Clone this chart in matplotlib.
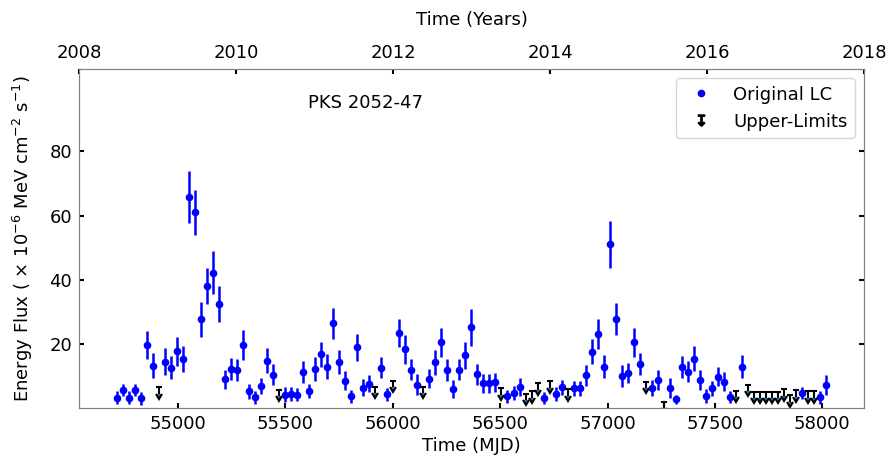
import numpy as np
import matplotlib.pyplot as plt
from matplotlib.lines import Line2D

# %% data (monthly light curve)
mjd_det = [54714, 54742, 54770, 54798, 54826, 54854, 54882, 54938, 54966, 54994,
           55022, 55050, 55078, 55106, 55134, 55162, 55190, 55218, 55246, 55274,
           55302, 55330, 55358, 55386, 55414, 55442, 55498, 55526, 55554, 55582,
           55610, 55638, 55666, 55694, 55722, 55750, 55778, 55806, 55834, 55862,
           55890, 55946, 55974, 56030, 56058, 56086, 56114, 56170, 56198, 56226,
           56254, 56282, 56310, 56338, 56366, 56394, 56422, 56450, 56478, 56534,
           56562, 56590, 56702, 56758, 56786, 56842, 56870, 56898, 56926, 56954,
           56982, 57010, 57038, 57066, 57094, 57122, 57150, 57206, 57234, 57290,
           57318, 57346, 57374, 57402, 57430, 57458, 57486, 57514, 57542, 57570,
           57626, 57906, 57990, 58018]
flux_det = [3.2, 5.6, 3.2, 5.6, 3.0, 19.7, 13.2, 14.4, 12.5, 17.7,
            15.2, 65.8, 61.0, 27.6, 38.0, 42.2, 32.5, 8.9, 12.2, 11.9,
            19.7, 5.2, 3.3, 6.9, 14.8, 10.4, 4.2, 4.4, 4.2, 11.2,
            5.4, 12.1, 16.7, 12.9, 26.4, 14.4, 8.5, 3.6, 18.9, 6.3,
            7.6, 12.6, 4.3, 23.5, 18.3, 12.0, 7.3, 9.1, 14.2, 20.5,
            11.9, 5.8, 12.0, 16.4, 25.1, 10.5, 7.7, 7.7, 8.0, 3.6,
            4.6, 6.6, 3.1, 4.4, 6.4, 6.1, 6.1, 10.2, 17.6, 23.0,
            12.9, 51.0, 27.8, 10.0, 10.9, 20.5, 13.8, 6.2, 8.7, 6.2,
            2.7, 12.7, 11.3, 15.4, 8.8, 3.7, 6.1, 9.8, 8.2, 3.4,
            12.9, 4.7, 3.3, 7.2]
err_det = [2.0, 2.0, 2.0, 2.0, 2.0, 4.4, 4.0, 4.2, 3.6, 4.5,
           4.0, 8.1, 7.1, 5.5, 5.6, 6.6, 5.6, 3.0, 3.4, 3.4,
           4.6, 2.4, 2.0, 2.6, 4.0, 3.2, 2.2, 2.2, 2.0, 3.5,
           2.2, 3.8, 3.8, 3.8, 4.9, 3.8, 3.0, 2.0, 4.3, 2.6,
           2.6, 3.4, 2.0, 4.4, 4.5, 3.4, 3.2, 3.0, 3.8, 4.5,
           3.4, 2.8, 3.4, 4.3, 5.7, 3.3, 3.0, 3.0, 3.0, 2.0,
           2.2, 2.8, 1.8, 2.2, 2.4, 2.4, 2.4, 3.3, 4.0, 4.7,
           3.6, 7.3, 4.9, 3.5, 3.0, 4.5, 3.5, 2.4, 3.2, 3.0,
           1.5, 3.5, 3.3, 4.0, 3.2, 2.2, 2.4, 3.0, 3.0, 1.8,
           3.6, 2.0, 2.0, 3.0]

mjd_ul = [54910, 55470, 55918, 56002, 56142, 56506, 56618, 56646, 56674, 56730,
          56814, 57178, 57262, 57598, 57654, 57682, 57710, 57738, 57766, 57794,
          57822, 57850, 57878, 57934, 57962]
flux_ul = [6.4, 5.6, 6.7, 8.5, 6.7, 6.2, 4.4, 5.2, 7.7, 8.3,
           5.8, 8.1, 1.9, 5.4, 7.3, 5.0, 5.0, 5.0, 5.0, 5.0,
           5.8, 3.9, 5.5, 5.2, 5.2]
err_ul = 2.0

years = [2008, 2010, 2012, 2014, 2016, 2018]

# %% plot
plt.rcParams['font.family'] = 'DejaVu Sans'
plt.rcParams['font.size'] = 13

fig = plt.figure(figsize=(8.89, 4.62), dpi=100)
ax = fig.add_axes([0.0889, 0.1169, 0.883, 0.7331])

ax.errorbar(mjd_det, flux_det, yerr=err_det, fmt='none', ecolor='blue', elinewidth=1.8)
ax.plot(mjd_det, flux_det, 'o', color='blue', ms=4.5, label='Original LC')
ax.errorbar(mjd_ul, flux_ul, yerr=err_ul, uplims=True, fmt='none', ecolor='black',
            elinewidth=1.5, capsize=2.5, capthick=1.5)

ax.set_xlim(54539, 58194)
ax.set_ylim(0, 105.6)
ax.set_yticks([20, 40, 60, 80])
ax.set_xlabel('Time (MJD)', labelpad=3)
ax.set_ylabel('Energy Flux ( $\\times$ 10$^{-6}$ MeV cm$^{-2}$ s$^{-1}$)', labelpad=10)
ax.tick_params(direction='in', right=True, width=1.5, labelsize=13, pad=5)
ax.text(0.292, 0.90, 'PKS 2052-47', transform=ax.transAxes, va='center', ha='left')

ul_handle = Line2D([], [], ls='none', marker='$\u21a7$', color='black', ms=8)
handles, labels = ax.get_legend_handles_labels()
ax.legend(handles + [ul_handle], labels + ['Upper-Limits'], loc='upper right')

ax2 = ax.twiny()
ax2.set_xlim(2008, 2018)
ax2.set_xticks(years)
ax2.set_xlabel('Time (Years)', labelpad=14)
ax2.tick_params(direction='in', width=1.5, labelsize=13, pad=5)

for a in (ax, ax2):
    for s in a.spines.values():
        s.set_color('0.5')

plt.savefig('out.png')
